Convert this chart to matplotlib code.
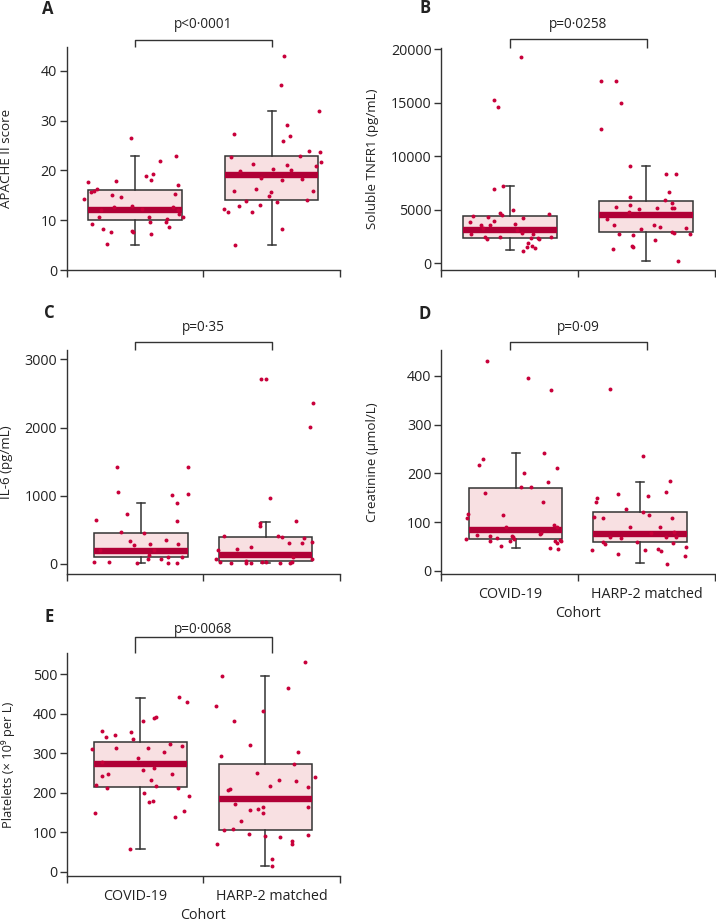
import matplotlib
matplotlib.use("Agg")
import matplotlib.pyplot as plt
import matplotlib.transforms as mtransforms
import numpy as np

plt.rcParams['font.family'] = ['Open Sans', 'DejaVu Sans']

# ---------------- data ----------------
groups = ["COVID-19", "HARP-2 matched"]
xlabel = "Cohort"
panel_letters = ["A", "B", "C", "D", "E"]
ylabels = ["APACHE II score", "Soluble TNFR1 (pg/mL)", "IL-6 (pg/mL)",
           "Creatinine (µmol/L)", "Platelets (× 10⁹ per L)"]
pvalues = ["p<0·0001", "p=0·0258", "p=0·35", "p=0·09", "p=0·0068"]
yticks = [[0, 10, 20, 30, 40],
          [0, 5000, 10000, 15000, 20000],
          [0, 1000, 2000, 3000],
          [0, 100, 200, 300, 400],
          [0, 100, 200, 300, 400, 500]]

# box statistics: (whisker low, q1, median, q3, whisker high)
A_box_covid = [5, 10, 12, 16, 23]
A_box_harp = [5, 14, 19, 23, 32]
B_box_covid = [1250, 2400, 3115, 4390, 7230]
B_box_harp = [250, 2900, 4520, 5790, 9100]
C_box_covid = [20, 107, 190, 459, 889]
C_box_harp = [20, 49, 132, 401, 621]
D_box_covid = [46, 65, 84, 171, 242]
D_box_harp = [16, 59, 75, 120, 183]
E_box_covid = [58, 214, 272, 329, 440]
E_box_harp = [15, 106, 184, 273, 496]

# individual values and their horizontal jitter
A_covid = [14.3, 17.6, 15.7, 15.9, 16.3, 9.2, 10.6, 8.2, 5.2, 7.6, 15.1, 12.6, 17.8, 14.6,
           26.6, 12.9, 7.9, 7.6, 18.9, 10.7, 9.7, 7.2, 18.1, 19.3, 21.8, 9.7, 10.3, 8.6,
           12.7, 15.3, 22.9, 17.0, 12.1, 11.2, 10.7, 12.0, 12.3]
A_covid_jit = [-0.371, -0.341, -0.324, -0.302, -0.28, -0.317, -0.263, -0.234, -0.203, -0.178,
               -0.166, -0.154, -0.137, -0.105, -0.032, -0.022, -0.02, -0.012, 0.078, 0.102,
               0.107, 0.115, 0.119, 0.129, 0.183, 0.224, 0.237, 0.251, 0.278, 0.293, 0.302,
               0.312, 0.312, 0.322, 0.354, -0.25, 0.05]
A_harp = [12.2, 11.7, 22.8, 27.3, 15.9, 5.0, 12.9, 19.9, 13.8, 11.7, 21.3, 16.2, 13.1, 18.4,
          14.9, 15.6, 20.3, 13.7, 37.1, 8.2, 18.0, 25.9, 42.9, 29.2, 21.1, 27.0, 20.0, 23.0,
          18.2, 14.1, 24.0, 15.9, 20.8, 32.0, 23.8, 21.7]
A_harp_jit = [-0.346, -0.32, -0.295, -0.273, -0.273, -0.268, -0.239, -0.232, -0.185, -0.141,
              -0.137, -0.112, -0.088, -0.078, -0.02, -0.005, 0.007, 0.039, 0.068, 0.073,
              0.078, 0.08, 0.093, 0.11, 0.115, 0.137, 0.141, 0.205, 0.222, 0.259, 0.276,
              0.3, 0.324, 0.346, 0.354, 0.359]

B_covid = [3894, 2741, 4455, 3582, 2430, 2243, 4299, 3582, 15264, 3956, 14578, 6915, 4673,
           4517, 7258, 2430, 4984, 19313, 3676, 4205, 1184, 2866, 1558, 1931, 2399, 1620,
           2741, 1402, 2336, 2305, 4579, 2430, 3300, 3150]
B_covid_jit = [-0.293, -0.286, -0.269, -0.215, -0.184, -0.172, -0.165, -0.147, -0.118, -0.116,
               -0.089, -0.116, -0.077, -0.057, -0.055, -0.074, 0.023, 0.079, 0.035, 0.094,
               0.096, 0.089, 0.12, 0.128, 0.15, 0.157, 0.164, 0.181, 0.201, 0.213, 0.281,
               0.296, -0.2, 0.05]
B_harp = [17039, 17039, 14952, 12585, 9127, 4112, 3613, 5296, 1371, 2741, 6168, 5451, 4828,
          5046, 2648, 1620, 1495, 3177, 2181, 3582, 5140, 3395, 5919, 8379, 6636, 5607,
          5202, 5140, 8379, 2959, 2835, 218, 3271, 2741]
B_harp_jit = [-0.325, -0.22, -0.184, -0.325, -0.118, -0.283, -0.235, -0.218, -0.24, -0.196,
              -0.113, -0.118, -0.125, -0.052, -0.091, -0.101, -0.091, -0.033, 0.064, 0.06,
              0.079, 0.101, 0.137, 0.146, 0.168, 0.192, 0.195, 0.209, 0.22, 0.191, 0.209,
              0.235, 0.296, 0.32]

C_covid = [24, 645, 24, 1427, 1060, 464, 728, 342, 279, 10, 450, 68, 288, 132, 78, 352, 10,
           1011, 899, 635, 293, 10, 98, 1427, 1031, 205, 205, 107]
C_covid_jit = [-0.345, -0.328, -0.236, -0.177, -0.165, -0.148, -0.102, -0.082, -0.05, -0.031,
               0.02, 0.055, 0.064, 0.059, 0.15, 0.181, 0.198, 0.228, 0.264, 0.262, 0.272,
               0.264, 0.303, 0.342, 0.345, -0.299, 0.096, 0.196]
C_harp = [68, 205, 34, 410, 10, 225, 10, 49, 244, 10, 596, 562, 2707, 2707, 34, 34, 963,
          410, 391, 313, 20, 20, 24, 630, 303, 386, 2013, 327, 2365, 68, 107]
C_harp_jit = [-0.365, -0.345, -0.331, -0.304, -0.25, -0.211, -0.145, -0.143, -0.109, -0.104,
              -0.043, -0.04, -0.031, 0.001, -0.023, 0.001, 0.033, 0.091, 0.118, 0.174, 0.179,
              0.106, 0.194, 0.221, 0.265, 0.284, 0.325, 0.343, 0.35, 0.343, 0.199]

D_covid = [65.5, 116.7, 107.8, 73.7, 217, 230, 160, 430.7, 71.7, 62.1, 66.9, 51.2, 114, 90.8,
           71.7, 68.9, 62.1, 64.8, 172, 201, 395, 172, 75.8, 78.5, 142, 242, 182, 47.1, 370.6,
           94.2, 211.6, 62.1, 58.0, 45.7, 63.5, 62.1, 89.4]
D_covid_jit = [-0.365, -0.348, -0.353, -0.282, -0.27, -0.239, -0.224, -0.207, -0.19, -0.185,
               -0.133, -0.109, -0.093, -0.069, -0.03, -0.02, -0.04, -0.012, 0.043, 0.058,
               0.094, 0.112, 0.175, 0.182, 0.197, 0.211, 0.238, 0.248, 0.26, 0.279, 0.301,
               0.287, 0.306, 0.309, 0.323, 0.335, 0.301]
D_harp = [43.7, 111, 142, 149, 108, 60, 55, 70, 372, 34.1, 158, 68.3, 127, 90.1, 60, 234.8,
          121.5, 43.7, 154, 115, 77, 45.7, 89.4, 41.0, 162.5, 14.3, 68.9, 184.3, 107.8, 56.7,
          80.5, 68.9, 49.8, 31.4]
D_harp_jit = [-0.353, -0.339, -0.325, -0.314, -0.268, -0.269, -0.259, -0.221, -0.221, -0.165,
              -0.16, -0.141, -0.1, -0.075, -0.023, 0.018, 0.021, 0.038, 0.055, 0.064, 0.078,
              0.134, 0.147, 0.152, 0.187, 0.195, 0.187, 0.218, 0.23, 0.24, 0.249, 0.261,
              0.333, 0.329]

E_covid = [310.8, 147.8, 220.4, 357.3, 278.7, 243.2, 342.1, 212.8, 247.5, 345.4, 314.2, 56.6,
           353.9, 335.3, 381.8, 288.9, 257.6, 200.2, 314.2, 177.4, 232.3, 178.2, 388.5, 391.9,
           261.8, 217.9, 304.1, 323.5, 246.6, 137.7, 212.0, 442.6, 319.3, 152.9, 429.9, 191.7]
E_covid_jit = [-0.357, -0.335, -0.323, -0.284, -0.279, -0.281, -0.252, -0.245, -0.235, -0.184,
               -0.177, -0.074, -0.067, -0.057, 0.016, -0.02, 0.019, 0.028, 0.055, 0.065, 0.077,
               0.094, 0.097, 0.111, 0.101, 0.114, 0.175, 0.214, 0.231, 0.253, 0.275, 0.284,
               0.301, 0.316, 0.343, 0.358]
E_harp = [69.3, 418.9, 293.1, 496.6, 105.6, 206.1, 208.6, 109.0, 382.6, 172.3, 127.5, 96.3,
          320.1, 156.3, 249.2, 158.8, 149.5, 163.9, 407.1, 89.5, 217.9, 32.1, 15.2, 231.4,
          87.8, 466.2, 76.9, 70.9, 272.8, 230.6, 304.1, 531.3, 164.7, 215.4, 93.8, 239.0]
E_harp_jit = [-0.355, -0.362, -0.328, -0.321, -0.304, -0.277, -0.257, -0.235, -0.231, -0.226,
              -0.175, -0.123, -0.114, -0.114, -0.062, -0.055, -0.021, -0.016, -0.016, -0.006,
              0.033, 0.05, 0.047, 0.096, 0.108, 0.169, 0.194, 0.196, 0.208, 0.221, 0.238,
              0.291, 0.311, 0.311, 0.311, 0.36]

boxes = [(A_box_covid, A_box_harp), (B_box_covid, B_box_harp), (C_box_covid, C_box_harp),
         (D_box_covid, D_box_harp), (E_box_covid, E_box_harp)]
points = [((A_covid, A_covid_jit), (A_harp, A_harp_jit)),
          ((B_covid, B_covid_jit), (B_harp, B_harp_jit)),
          ((C_covid, C_covid_jit), (C_harp, C_harp_jit)),
          ((D_covid, D_covid_jit), (D_harp, D_harp_jit)),
          ((E_covid, E_covid_jit), (E_harp, E_harp_jit))]

# ---------------- layout (pixels) ----------------
W, H = 716, 922
fig = plt.figure(figsize=(W / 100, H / 100), dpi=100)

# left, top, right, bottom in pixels
rects = [(66.7, 47, 340, 270), (441.3, 48, 715, 270), (66.7, 350, 340, 574),
         (441.3, 350, 715, 574.3), (66.7, 652.7, 340, 876)]
ylims = [(0, 44.8), (-620, 20120), (-147, 3137), (-7, 453), (-11, 555)]
positions = [(1.0, 2.0), (1.004, 1.994), (1.043, 1.955), (1.043, 1.953), (1.04, 1.954)]
bracket_y = [1.031, 1.039, 1.037, 1.034, 1.069]
ptext_y = [1.1, 1.106, 1.1, 1.1, 1.105]
letter_xy = [(48, 9), (425, 8), (49, 313), (425, 314), (49, 617)]
ylabel_x = [-0.196, -0.228, -0.196, -0.228, -0.19]
ylabel_fs = [9.6, 9.6, 9.6, 9.6, 9.3]
show_xlabels = [False, False, False, True, True]

DOT = '#c8003a'
MED = '#b00036'
FILL = '#f8e0e2'
EDGE = '#333333'
TXT = '#222222'
TICKFS = 10.3

for i in range(5):
    l, t, r, b = rects[i]
    ax = fig.add_axes([l / W, 1 - b / H, (r - l) / W, (b - t) / H])
    stats = []
    for k, bx in enumerate(boxes[i]):
        stats.append(dict(whislo=bx[0], q1=bx[1], med=bx[2], q3=bx[3], whishi=bx[4],
                          fliers=[], label=groups[k]))
    ax.bxp(stats, positions=list(positions[i]), widths=0.685, capwidths=0.06,
           showfliers=False, patch_artist=True, manage_ticks=False,
           boxprops=dict(facecolor=FILL, edgecolor=EDGE, linewidth=1.1),
           whiskerprops=dict(color=EDGE, linewidth=1.1),
           capprops=dict(color=EDGE, linewidth=1.1),
           medianprops=dict(color=MED, linewidth=4.6, solid_capstyle='butt'),
           zorder=2)
    for k, (vals, jit) in enumerate(points[i]):
        xs = positions[i][k] + np.asarray(jit)
        ax.scatter(xs, vals, s=8, color=DOT, linewidths=0, zorder=3)

    ax.set_xlim(0.5, 2.5)
    ax.set_ylim(*ylims[i])
    ax.set_yticks(yticks[i])
    ax.set_yticklabels([str(v) for v in yticks[i]])
    ax.set_xticks([0.5, 1.5, 2.5])
    ax.set_xticklabels([])
    ax.tick_params(axis='both', which='major', direction='out', length=5, width=1.0,
                   color=EDGE, labelsize=TICKFS, labelcolor=TXT, pad=2)
    if show_xlabels[i]:
        ax.set_xticks([1, 2], minor=True)
        ax.set_xticklabels(groups, minor=True)
        ax.tick_params(axis='x', which='minor', length=0, labelsize=TICKFS,
                       labelcolor=TXT, pad=9)
        ax.set_xlabel(xlabel, fontsize=TICKFS, color=TXT, labelpad=3)
    for side in ('top', 'right'):
        ax.spines[side].set_visible(False)
    for side in ('left', 'bottom'):
        ax.spines[side].set_color(EDGE)
        ax.spines[side].set_linewidth(1.0)
    ax.set_ylabel(ylabels[i], fontsize=ylabel_fs[i], color=TXT)
    ax.yaxis.set_label_coords(ylabel_x[i], 0.5)

    # significance bracket
    trans = mtransforms.blended_transform_factory(ax.transData, ax.transAxes)
    by = bracket_y[i]
    ax.plot([1, 1, 2, 2], [1.0, by, by, 1.0], transform=trans, color=EDGE,
            linewidth=1.0, clip_on=False, solid_capstyle='butt')
    ax.text(1.5, ptext_y[i], pvalues[i], transform=trans, ha='center', va='center',
            fontsize=9.8, color=TXT)

    lx, ly = letter_xy[i]
    fig.text(lx / W, 1 - ly / H, panel_letters[i], fontsize=12, fontweight='bold',
             ha='center', va='center', color=TXT)

fig.savefig('out.png', dpi=100)
